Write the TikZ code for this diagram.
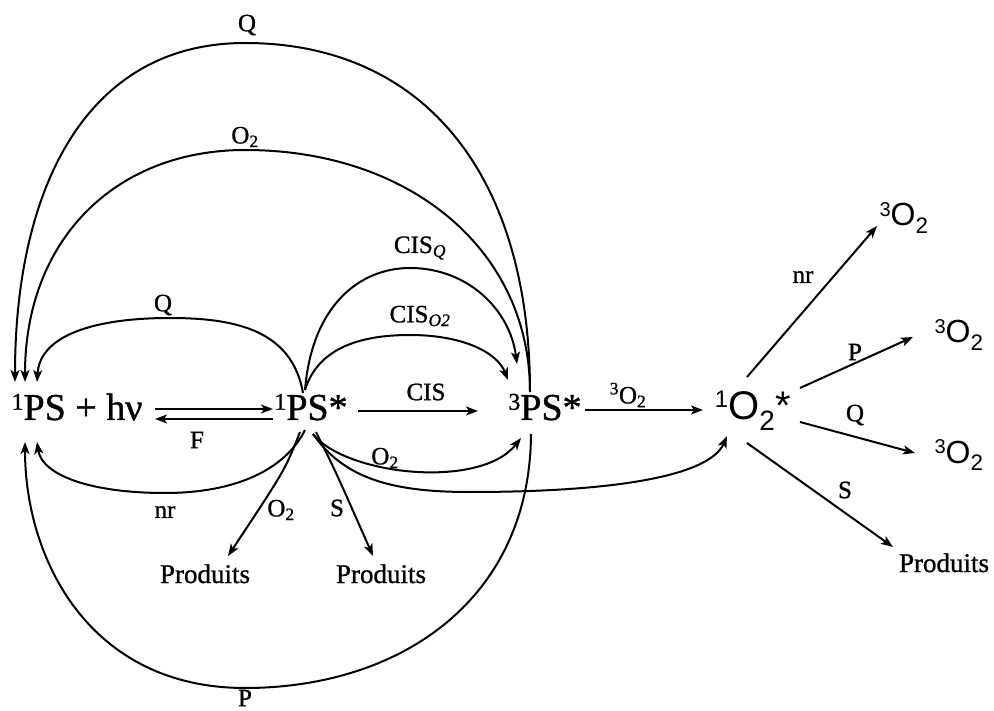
\documentclass[tikz,border=0pt]{standalone}
\usepackage{fontspec}
\setmainfont[FakeBold=1.5]{Liberation Serif}
\newfontfamily\tnr[FakeBold=1]{Liberation Serif}
\newfontfamily\arialf{Liberation Sans}
\newcommand\supbig[1]{\raisebox{0.27em}{\fontsize{24}{24}\selectfont #1}}
\newcommand\supox[1]{\raisebox{0.3em}{\fontsize{24}{24}\selectfont #1}}
\newcommand\supsm[1]{\raisebox{0.3em}{\fontsize{20}{20}\selectfont #1}}
\usetikzlibrary{arrows.meta,calc}
\begin{document}
\begin{tikzpicture}[x=1pt,y=-1pt, line width=2pt,
  arr/.style={-{Stealth[length=12pt,width=9pt,inset=3pt]}},
  big/.style={font=\tnr\fontsize{38}{40}\selectfont, inner sep=0pt, anchor=base},
  oxy/.style={font=\arialf\fontsize{40}{42}\selectfont, inner sep=0pt, anchor=base},
  oxs/.style={font=\arialf\fontsize{32}{34}\selectfont, inner sep=0pt, anchor=base},
  prod/.style={font=\tnr\fontsize{27}{29}\selectfont, inner sep=0pt, anchor=base},
  lab/.style={font=\tnr\fontsize{25}{27}\selectfont, inner sep=0pt}]
\useasboundingbox (0,0) rectangle (994,711);

% main species
\node[big] (ps0) at (77,420) {\supbig{1}PS + hν};
\node[big] (ps1) at (311,420) {\supbig{1}PS*};
\node[big] (ps3) at (545,420) {\supbig{3}PS*};
\node[oxy] (o1) at (753,420) {\supox{1}O\textsubscript{2}*};
\node[oxs] (t1) at (904,226) {\supsm{3}O\textsubscript{2}};
\node[oxs] (t2) at (959,343) {\supsm{3}O\textsubscript{2}};
\node[oxs] (t3) at (959,463) {\supsm{3}O\textsubscript{2}};
\node[prod] (pl) at (205,583) {Produits};
\node[prod] (pm) at (381,583) {Produits};
\node[prod] (pr) at (944,572) {Produits};

% labels
\node[lab] (lQbig) at (247,25) {Q};
\node[lab] (lO2big) at (245,137) {O\textsubscript{2}};
\node[lab] (lCISQ) at (420,248) {CIS\textsubscript{\textit{Q}}};
\node[lab] (lCISO) at (420,316) {CIS\textsubscript{\textit{O2}}};
\node[lab] (lQs) at (163,305) {Q};
\node[lab] (lF) at (197,440) {F};
\node[lab] (lCIS) at (426,392) {CIS};
\node[lab] (l3O2) at (628,395) {\textsuperscript{3}O\textsubscript{2}};
\node[lab] (lnr) at (165,512) {nr};
\node[lab] (lO2p) at (281,510) {O\textsubscript{2}};
\node[lab] (lSp) at (337,508) {S};
\node[lab] (lO2b) at (385,458) {O\textsubscript{2}};
\node[lab] (lP) at (245,698) {P};
\node[lab] (rnr) at (803,277) {nr};
\node[lab] (rP) at (855,352) {P};
\node[lab] (rQ) at (855,415) {Q};
\node[lab] (rS) at (845,490) {S};

% straight reactions
\draw[arr] ($(ps0.base)+(78,-11)$) -- ($(ps1.base)+(-38,-11)$);
\draw[arr] ($(ps1.base)+(-38,-1)$) -- ($(ps0.base)+(78,-1)$);
\draw[arr] ($(ps1.base)+(47,-9)$) -- ($(ps3.base)+(-67,-9)$);
\draw[arr] ($(ps3.base)+(40,-10)$) -- ($(o1.base)+(-50,-10)$);

% arcs back to ground state
\draw[arr] ($(ps1.base)+(-8,-27)$) .. controls (292,330) and (235,318) .. (170,318)
   .. controls (95,318) and (40,335) .. ($(ps0.base)+(-40,-38)$);
\draw[arr] ($(ps3.base)+(-15,-28)$) .. controls (530,170) and (420,43) .. (245,43)
   .. controls (85,43) and (15,190) .. ($(ps0.base)+(-62,-38)$);
\draw[arr] ($(ps3.base)+(-15,-28)$) .. controls (530,250) and (410,150) .. (245,150)
   .. controls (115,150) and (25,240) .. ($(ps0.base)+(-52,-38)$);
\draw[arr] ($(ps3.base)+(-14,14)$) .. controls (530,600) and (400,688) .. (245,688)
   .. controls (90,688) and (25,560) .. ($(ps0.base)+(-52,22)$);
\draw[arr] ($(ps1.base)+(-6,10)$) .. controls (285,470) and (235,493) .. (165,493)
   .. controls (90,493) and (42,475) .. ($(ps0.base)+(-40,22)$);

% intersystem crossing arcs
\draw[arr] ($(ps1.base)+(-6,-30)$) .. controls (312,305) and (360,268) .. (410,268)
   .. controls (468,268) and (510,310) .. ($(ps3.base)+(-28,-56)$);
\draw[arr] ($(ps1.base)+(-6,-30)$) .. controls (318,348) and (360,335) .. (410,335)
   .. controls (462,335) and (497,352) .. ($(ps3.base)+(-37,-40)$);

% O2 arcs below
\draw[arr] ($(ps1.base)+(2,14)$) .. controls (345,475) and (480,490) .. ($(ps3.base)+(-24,18)$);
\draw[arr] ($(ps1.base)+(2,14)$) .. controls (345,480) and (395,492) .. (470,492)
   .. controls (620,492) and (710,475) .. ($(o1.base)+(-26,16)$);

% products from 1PS*
\draw[arr] ($(ps1.base)+(-11,12)$) .. controls (285,470) .. ($(pl.base)+(23,-27)$);
\draw[arr] ($(ps1.base)+(5,12)$) .. controls (335,470) .. ($(pm.base)+(-8,-27)$);

% singlet oxygen
\draw[arr] ($(o1.base)+(-6,-43)$) -- ($(t1.base)+(-27,0)$);
\draw[arr] ($(o1.base)+(47,-32)$) -- ($(t2.base)+(-46,-6)$);
\draw[arr] ($(o1.base)+(47,2)$) -- ($(t3.base)+(-44,-10)$);
\draw[arr] ($(o1.base)+(-6,23)$) -- ($(pr.base)+(-51,-25)$);
\end{tikzpicture}
\end{document}
